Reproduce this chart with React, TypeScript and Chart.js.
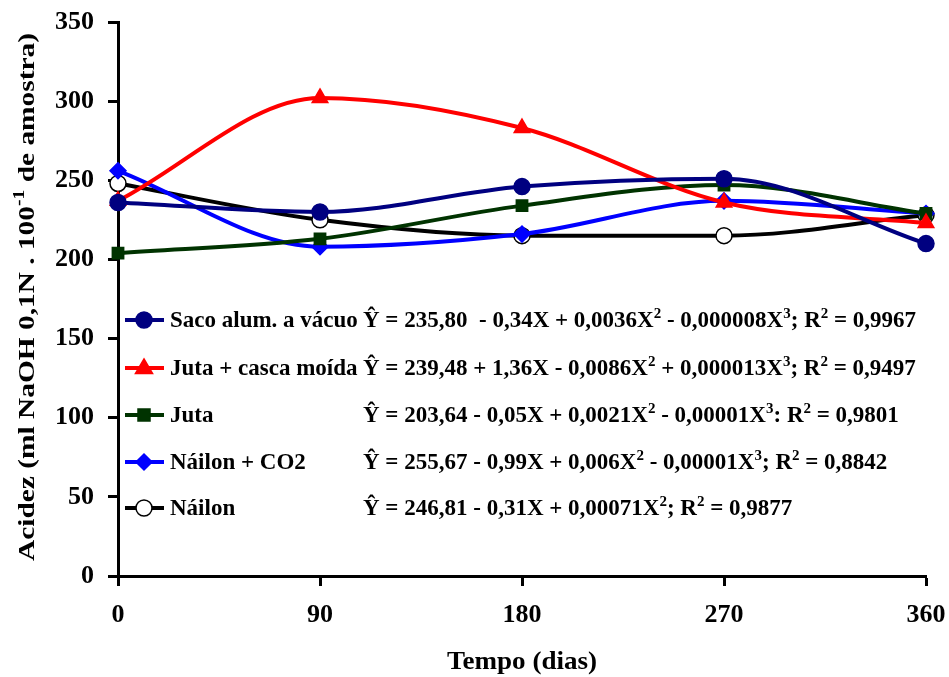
import React, { useEffect, useRef } from 'react';
import { Chart, registerables } from 'chart.js';

Chart.register(...registerables);

const days = [0, 90, 180, 270, 360];
const sacoAlum = [236, 230, 246, 251, 210];
const jutaCasca = [237, 302, 283, 236, 223];
const juta = [204, 213, 234, 247, 229];
const nailonCO2 = [256, 208, 216, 237, 229];
const nailon = [248, 225, 215, 215, 228];

const seriesNames = ['Saco alum. a vácuo', 'Juta + casca moída', 'Juta', 'Náilon + CO2', 'Náilon'];
const equations = [
  'Ŷ = 235,80  - 0,34X + 0,0036X^2 - 0,000008X^3; R^2 = 0,9967',
  'Ŷ = 239,48 + 1,36X - 0,0086X^2 + 0,000013X^3; R^2 = 0,9497',
  'Ŷ = 203,64 - 0,05X + 0,0021X^2 - 0,00001X^3: R^2 = 0,9801',
  'Ŷ = 255,67 - 0,99X + 0,006X^2 - 0,00001X^3; R^2 = 0,8842',
  'Ŷ = 246,81 - 0,31X + 0,00071X^2; R^2 = 0,9877',
];
const xTitle = 'Tempo (dias)';
const yTitle = 'Acidez (ml NaOH 0,1N . 100^-^1 de amostra)';

const FONT = "'Liberation Serif', 'Times New Roman', serif";

const styles = [
  { color: '#000080', fill: '#000080', pointStyle: 'circle', radius: 8 },
  { color: '#ff0000', fill: '#ff0000', pointStyle: 'triangle', radius: 9 },
  { color: '#003300', fill: '#003300', pointStyle: 'rect', radius: 8 },
  { color: '#0000ff', fill: '#0000ff', pointStyle: 'rectRot', radius: 8 },
  { color: '#000000', fill: '#ffffff', pointStyle: 'circle', radius: 8 },
];

function parseRich(s: string) {
  const parts: { t: string; sup: boolean }[] = [];
  let i = 0;
  let buf = '';
  while (i < s.length) {
    if (s[i] === '^') {
      if (buf) parts.push({ t: buf, sup: false });
      buf = '';
      parts.push({ t: s[i + 1], sup: true });
      i += 2;
    } else {
      buf += s[i];
      i++;
    }
  }
  if (buf) parts.push({ t: buf, sup: false });
  return parts;
}

function richWidth(ctx: CanvasRenderingContext2D, s: string, size: number) {
  let w = 0;
  for (const p of parseRich(s)) {
    ctx.font = `bold ${p.sup ? Math.round(size * 0.65) : size}px ${FONT}`;
    w += ctx.measureText(p.t).width;
  }
  return w;
}

function drawRich(ctx: CanvasRenderingContext2D, s: string, x: number, y: number, size: number) {
  let cx = x;
  ctx.textBaseline = 'alphabetic';
  ctx.textAlign = 'left';
  for (const p of parseRich(s)) {
    ctx.font = `bold ${p.sup ? Math.round(size * 0.65) : size}px ${FONT}`;
    ctx.fillText(p.t, cx, p.sup ? y - size * 0.4 : y);
    cx += ctx.measureText(p.t).width;
  }
}

function drawRichCentered(ctx: CanvasRenderingContext2D, s: string, y: number, size: number, targetWidth: number) {
  const w = richWidth(ctx, s, size);
  const sx = targetWidth / w;
  ctx.save();
  ctx.scale(sx, 1);
  drawRich(ctx, s, -w / 2, y, size);
  ctx.restore();
}

function drawMarker(ctx: CanvasRenderingContext2D, st: any, x: number, y: number) {
  ctx.save();
  ctx.fillStyle = st.fill;
  ctx.strokeStyle = st.color;
  ctx.lineWidth = 1.5;
  const r = st.radius;
  ctx.beginPath();
  if (st.pointStyle === 'circle') {
    ctx.arc(x, y, r, 0, Math.PI * 2);
  } else if (st.pointStyle === 'triangle') {
    ctx.moveTo(x, y - r);
    ctx.lineTo(x + r * 0.95, y + r * 0.6);
    ctx.lineTo(x - r * 0.95, y + r * 0.6);
    ctx.closePath();
  } else if (st.pointStyle === 'rect') {
    ctx.rect(x - r * 0.75, y - r * 0.75, r * 1.5, r * 1.5);
  } else {
    ctx.moveTo(x, y - r);
    ctx.lineTo(x + r, y);
    ctx.lineTo(x, y + r);
    ctx.lineTo(x - r, y);
    ctx.closePath();
  }
  ctx.fill();
  ctx.stroke();
  ctx.restore();
}

const annotPlugin = {
  id: 'annot',
  afterDraw(chart: any) {
    const ctx: CanvasRenderingContext2D = chart.ctx;
    const area = chart.chartArea;
    ctx.save();
    ctx.fillStyle = '#000';
    const rowY = [320, 368, 415, 462, 508];
    for (let i = 0; i < seriesNames.length; i++) {
      const st = styles[i];
      const y = rowY[i];
      ctx.strokeStyle = st.color;
      ctx.lineWidth = 4;
      ctx.beginPath();
      ctx.moveTo(area.left + 7, y);
      ctx.lineTo(area.left + 46, y);
      ctx.stroke();
      drawMarker(ctx, st, area.left + 26, y);
      ctx.fillStyle = '#000';
      drawRich(ctx, seriesNames[i], area.left + 52, y + 7, 23);
      drawRich(ctx, equations[i], 363, y + 7, 23);
    }
    ctx.save();
    ctx.translate((area.left + area.right) / 2, 0);
    drawRichCentered(ctx, xTitle, 669, 25, 150);
    ctx.restore();
    ctx.save();
    ctx.translate(27, 297);
    ctx.rotate(-Math.PI / 2);
    drawRichCentered(ctx, yTitle, 7, 24, 528);
    ctx.restore();
    ctx.restore();
  },
};

export default function App() {
  const ref = useRef<HTMLCanvasElement | null>(null);
  useEffect(() => {
    if (!ref.current) return;
    const series = [sacoAlum, jutaCasca, juta, nailonCO2, nailon];
    const chart = new Chart(ref.current, {
      type: 'line',
      data: {
        datasets: series.map((vals, i) => ({
          label: seriesNames[i],
          data: days.map((d, j) => ({ x: d, y: vals[j] })),
          borderColor: styles[i].color,
          backgroundColor: styles[i].fill,
          pointBackgroundColor: styles[i].fill,
          pointBorderColor: styles[i].color,
          pointBorderWidth: 1.5,
          pointStyle: styles[i].pointStyle as any,
          pointRadius: styles[i].radius,
          borderWidth: 4,
          tension: 0.4,
          cubicInterpolationMode: 'monotone' as any,
          clip: false as any,
          fill: false,
        })),
      },
      options: {
        animation: false,
        responsive: false,
        events: [],
        layout: { padding: { left: 0, right: 23, top: 22, bottom: 0 } },
        plugins: { legend: { display: false }, tooltip: { enabled: false }, title: { display: false } },
        scales: {
          x: {
            type: 'linear',
            min: 0,
            max: 360,
            afterFit: (s: any) => { s.height = 101; s.paddingLeft = 0; s.paddingRight = 0; },
            afterBuildTicks: (s: any) => { s.ticks = days.map((v) => ({ value: v })); },
            ticks: { color: '#000', font: { family: FONT, size: 26, weight: 'bold' }, padding: 14, maxRotation: 0 },
            grid: { drawOnChartArea: false, drawTicks: true, tickLength: 10, tickWidth: 3, tickColor: '#000', color: '#000' },
            border: { color: '#000', width: 3 },
          },
          y: {
            min: 0,
            max: 350,
            afterFit: (s: any) => { s.width = 118; s.paddingTop = 0; s.paddingBottom = 0; },
            ticks: { stepSize: 50, color: '#000', font: { family: FONT, size: 26, weight: 'bold' }, padding: 14 },
            grid: { drawOnChartArea: false, drawTicks: true, tickLength: 10, tickWidth: 3, tickColor: '#000', color: '#000' },
            border: { color: '#000', width: 3 },
          },
        },
      },
      plugins: [annotPlugin],
    });
    return () => chart.destroy();
  }, []);
  return (
    <div style={{ position: 'absolute', left: 0, top: 0, width: 949, height: 677, background: '#fff' }}>
      <canvas ref={ref} width={949} height={677} style={{ width: 949, height: 677 }} />
    </div>
  );
}
